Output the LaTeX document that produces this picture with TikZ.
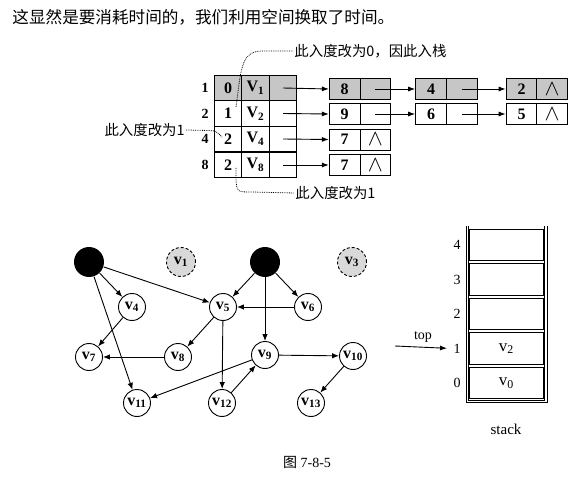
\documentclass[tikz,border=0pt]{standalone}
\usepackage{fontspec}
\setmainfont{Liberation Serif}
\newfontfamily\cjk{Noto Sans CJK SC}
\usetikzlibrary{arrows.meta,positioning}

\newcommand{\nil}{\scalebox{1.3}{$\wedge$}}

\begin{document}
\begin{tikzpicture}[x=1pt,y=-1pt,line width=0.9pt]
	\tikzstyle{Cell}	= [draw, rectangle, minimum width=27.5pt, minimum height=25.7pt, inner sep=0pt, font=\fontsize{16}{16}\selectfont\bfseries]
	\tikzstyle{Half}	= [draw, rectangle, minimum width=30.7pt, minimum height=21pt, inner sep=0pt, font=\fontsize{16}{16}\selectfont\bfseries]
	\tikzstyle{Shaded}	= [fill=gray!45]
	\tikzstyle{Idx}		= [inner sep=1pt, font=\fontsize{14}{14}\selectfont\bfseries]
	\tikzstyle{Link}	= [-{Latex[length=7pt,width=5pt]}]
	\tikzstyle{Note}	= [densely dotted, line width=0.8pt]
	\tikzstyle{Remark}	= [inner sep=1pt, font=\fontsize{14.4}{15}\selectfont\cjk]
	\tikzstyle{Vertex}	= [draw, circle, fill=white, minimum size=27pt, inner sep=0pt, font=\fontsize{16}{16}\selectfont\bfseries]
	\tikzstyle{Source}	= [circle, fill=black, minimum size=30pt, inner sep=0pt]
	\tikzstyle{Removed}	= [draw, densely dashed, circle, fill=gray!30, minimum size=29pt, inner sep=0pt, font=\fontsize{16}{16}\selectfont\bfseries]
	\tikzstyle{Arc}		= [-{Latex[length=7pt,width=5.5pt]}]
	\tikzstyle{Slot}	= [draw, rectangle, minimum width=74pt, minimum height=31.5pt, inner sep=0pt, font=\fontsize{17}{17}\selectfont]

	\useasboundingbox (0,0) rectangle (584,484);

	% heading line
	\node (head) at (12,17) [anchor=west, inner sep=0pt, font=\fontsize{16.6}{18}\selectfont\cjk] {这显然是要消耗时间的，我们利用空间换取了时间。};

	% vertex table
	\node (r1) at (205,88) [Idx] {1};
	\node (r2) at (205,113.5) [Idx] {2};
	\node (r3) at (205,139) [Idx] {4};
	\node (r4) at (205,165) [Idx] {8};

	\node (a1) at (228,88) [Cell][Shaded] {0};
	\node (b1) at (255.5,88) [Cell][Shaded] {V\textsubscript{1}};
	\node (c1) at (283,88) [Cell][Shaded] {};
	\node (a2) at (228,113.5) [Cell] {1};
	\node (b2) at (255.5,113.5) [Cell] {V\textsubscript{2}};
	\node (c2) at (283,113.5) [Cell] {};
	\node (a3) at (228,139) [Cell] {2};
	\node (b3) at (255.5,139) [Cell] {V\textsubscript{4}};
	\node (c3) at (283,139) [Cell] {};
	\node (a4) at (228,165) [Cell] {2};
	\node (b4) at (255.5,165) [Cell] {V\textsubscript{8}};
	\node (c4) at (283,165) [Cell] {};

	% edge lists
	\node (e1a) at (344.7,89) [Half][Shaded] {8};
	\node (e1b) at (375.4,89) [Half][Shaded] {};
	\node (e2a) at (431,89) [Half][Shaded] {4};
	\node (e2b) at (461.7,89) [Half][Shaded] {};
	\node (e3a) at (521.5,89) [Half][Shaded] {2};
	\node (e3b) at (552.2,89) [Half][Shaded] {\nil};
	\node (f1a) at (344.7,114) [Half] {9};
	\node (f1b) at (375.4,114) [Half] {};
	\node (f2a) at (431,114) [Half] {6};
	\node (f2b) at (461.7,114) [Half] {};
	\node (f3a) at (521.5,114) [Half] {5};
	\node (f3b) at (552.2,114) [Half] {\nil};
	\node (g1a) at (344.7,139.5) [Half] {7};
	\node (g1b) at (375.4,139.5) [Half] {\nil};
	\node (h1a) at (344.7,165) [Half] {7};
	\node (h1b) at (375.4,165) [Half] {\nil};

	\draw [Link] (c1.center) to (e1a.west);
	\draw [Link] (e1b.center) to (e2a.west);
	\draw [Link] (e2b.center) to (e3a.west);
	\draw [Link] (c2.center) to (f1a.west);
	\draw [Link] (f1b.center) to (f2a.west);
	\draw [Link] (f2b.center) to (f3a.west);
	\draw [Link] (c3.center) to (g1a.west);
	\draw [Link] (c4.center) to (h1a.west);

	% remarks
	\node (n0) at (293,51) [Remark, anchor=west] {此入度改为0，因此入栈};
	\node (n1) at (186,130) [Remark, anchor=east] {此入度改为1};
	\node (n2) at (294,193) [Remark, anchor=west] {此入度改为1};
	\coordinate (p0) at (236,107);
	\coordinate (p1) at (222,137);
	\coordinate (p2) at (236,168);
	\draw [Note] (p0) .. controls (241,72) and (240,51) .. (262,51) -- (n0.west);
	\draw [Note] (n1.east) -- (209,130.5) .. controls (216,131) .. (p1);
	\draw [Note] (p2) -- (236,180) .. controls (237,192) .. (252,192) -- (n2.west);

	% graph
	\node (s1) at (89,262) [Source] {};
	\node (v1) at (181,262) [Removed] {v\textsubscript{1}};
	\node (s2) at (265,262) [Source] {};
	\node (v3) at (352,262) [Removed] {v\textsubscript{3}};
	\node (v4) at (132,307) [Vertex] {v\textsubscript{4}};
	\node (v5) at (223,307) [Vertex] {v\textsubscript{5}};
	\node (v6) at (308,307) [Vertex] {v\textsubscript{6}};
	\node (v7) at (89,357) [Vertex] {v\textsubscript{7}};
	\node (v8) at (178,357) [Vertex] {v\textsubscript{8}};
	\node (v9) at (265,355) [Vertex] {v\textsubscript{9}};
	\node (v10) at (353,356) [Vertex] {v\textsubscript{10}};
	\node (v11) at (137,403) [Vertex] {v\textsubscript{11}};
	\node (v12) at (222,403) [Vertex] {v\textsubscript{12}};
	\node (v13) at (311,403) [Vertex] {v\textsubscript{13}};

	\draw [Arc] (s1) to (v4);
	\draw [Arc] (s1) to (v5);
	\draw [Arc] (s1) to (v11);
	\draw [Arc] (s2) to (v5);
	\draw [Arc] (s2) to (v6);
	\draw [Arc] (s2) to (v9);
	\draw [Arc] (v6) to (v5);
	\draw [Arc] (v4) to (v7);
	\draw [Arc] (v5) to (v8);
	\draw [Arc] (v5) to (v12);
	\draw [Arc] (v8) to (v7);
	\draw [Arc] (v9) to (v10);
	\draw [Arc] (v9) to (v11);
	\draw [Arc] (v12) to (v9);
	\draw [Arc] (v10) to (v13);

	% stack
	\foreach \i/\t in {0/v\textsubscript{0},1/v\textsubscript{2},2/,3/,4/} {
		\node (k\i) at (506.3,{383-34.5*\i}) [Slot] {\t};
		\node (i\i) at (457,{383-34.5*\i}) [Idx, font=\fontsize{14}{14}\selectfont] {\i};
	}
	\draw (466,226) -- (466,402.5) -- (547,402.5) -- (547,226);
	\draw (468.5,226) -- (468.5,400) -- (544.5,400) -- (544.5,226);
	\coordinate (t0) at (395,346);
	\draw [Link, shorten >=5pt] (t0) -- (i1.west);
	\node (top) at (423,337) [font=\fontsize{14}{14}\selectfont] {top};
	\node (stk) at (506,429) [font=\fontsize{15}{15}\selectfont] {stack};

	% caption
	\node (cap) at (307,462) [font=\fontsize{14}{14}\selectfont] {{\cjk 图} 7-8-5};
\end{tikzpicture}
\end{document}
